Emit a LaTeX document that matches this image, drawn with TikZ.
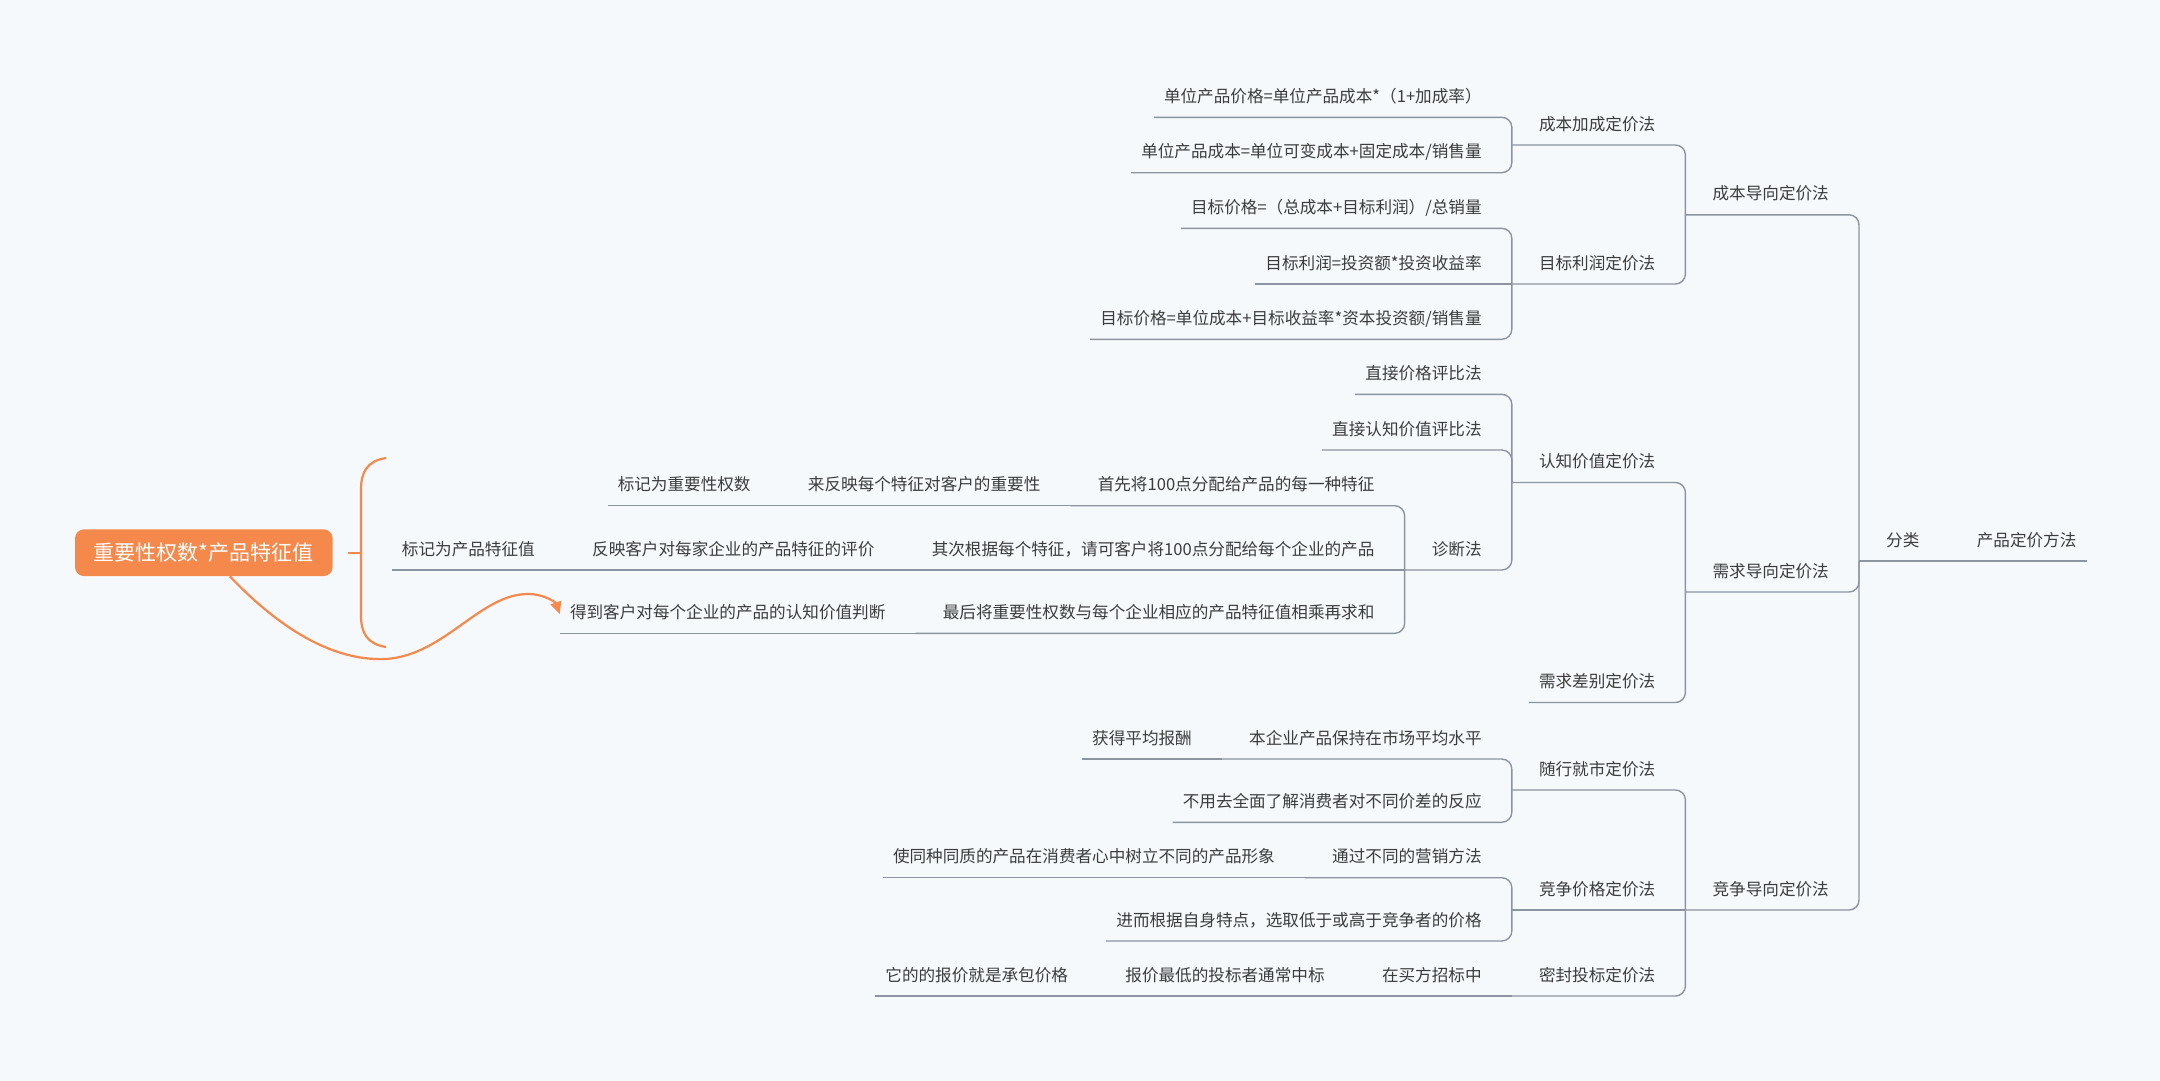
\documentclass[tikz,border=0pt]{standalone}
\usepackage{fontspec}
\setmainfont{Noto Sans CJK SC}
\usepackage{xcolor}
\usetikzlibrary{calc,positioning,arrows.meta}
\definecolor{bgcol}{RGB}{245,249,252}
\definecolor{linecol}{RGB}{140,148,160}
\definecolor{textcol}{RGB}{60,60,60}
\definecolor{orangecol}{RGB}{245,137,76}

\begin{document}
\begin{tikzpicture}[x=1pt,y=-1pt]
    \tikzset{
        topic/.style={text=textcol, font=\fontsize{16.6pt}{20pt}\selectfont, inner ysep=10.7pt, text height=13pt, text depth=4pt, anchor=south east},
        leaf/.style={topic, inner xsep=10pt, xshift=-20pt},
        hub/.style={topic, inner xsep=27pt, xshift=-3pt},
        titlebox/.style={rectangle, rounded corners=9pt, fill=orangecol, text=white, font=\fontsize{21pt}{25pt}\selectfont, minimum width=257.6pt, minimum height=46.7pt, inner sep=0pt},
        myline/.style={draw=linecol, line width=1.4pt, rounded corners=10pt},
        myarrow/.style={draw=orangecol, line width=2.2pt, -{Triangle[length=12pt,width=11pt]}},
        mybrace/.style={draw=orangecol, line width=2.2pt},
    }
    \fill[bgcol] (0,0) rectangle (2160,1081);
    \useasboundingbox (0,0) rectangle (2160,1081);

    \node[hub] (item0) at (2106.6,561) {产品定价方法};
    \node[hub] (item1) at (item0.south west |- 0,561) {分类};
      \node[hub] (item2) at (item1.south west |- 0,214.8) {成本导向定价法};
      \node[hub] (item3) at (item1.south west |- 0,592) {需求导向定价法};
      \node[hub] (item4) at (item1.south west |- 0,910) {竞争导向定价法};

        \node[hub] (item5) at (item2.south west |- 0,145) {成本加成定价法};
          \node[leaf] (item6) at (item5.south west |- 0,117.3) {单位产品价格=单位产品成本*（1+加成率）};
          \node[leaf] (item7) at (item5.south west |- 0,172.7) {单位产品成本=单位可变成本+固定成本/销售量};
        \node[hub] (item8) at (item2.south west |- 0,284) {目标利润定价法};
          \node[leaf] (item9) at (item8.south west |- 0,228.3) {目标价格=（总成本+目标利润）/总销量};
          \node[leaf] (item10) at (item8.south west |- 0,284) {目标利润=投资额*投资收益率};
          \node[leaf] (item11) at (item8.south west |- 0,339.3) {目标价格=单位成本+目标收益率*资本投资额/销售量};

        \node[hub] (item12) at (item3.south west |- 0,482.5) {认知价值定价法};
          \node[leaf] (item13) at (item12.south west |- 0,394.3) {直接价格评比法};
          \node[leaf] (item14) at (item12.south west |- 0,450) {直接认知价值评比法};
          \node[hub] (item15) at (item12.south west |- 0,570) {诊断法};
            \node[hub] (item16) at (item15.south west |- 0,505.7) {首先将100点分配给产品的每一种特征};
              \node[hub] (item17) at (item16.south west |- 0,505.7) {来反映每个特征对客户的重要性};
                \node[leaf] (item18) at (item17.south west |- 0,505.7) {标记为重要性权数};
            \node[hub] (item19) at (item15.south west |- 0,570) {其次根据每个特征，请可客户将100点分配给每个企业的产品};
              \node[hub] (item20) at (item19.south west |- 0,570) {反映客户对每家企业的产品特征的评价};
                \node[leaf] (item21) at (item20.south west |- 0,570) {标记为产品特征值};
            \node[hub] (item22) at (item15.south west |- 0,633.3) {最后将重要性权数与每个企业相应的产品特征值相乘再求和};
              \node[leaf] (item23) at (item22.south west |- 0,633.3) {得到客户对每个企业的产品的认知价值判断};
        \node[leaf] (item24) at (item3.south west |- 0,702.5) {需求差别定价法};

        \node[hub] (item25) at (item4.south west |- 0,790) {随行就市定价法};
          \node[hub] (item26) at (item25.south west |- 0,759) {本企业产品保持在市场平均水平};
            \node[leaf] (item27) at (item26.south west |- 0,759) {获得平均报酬};
          \node[leaf] (item28) at (item25.south west |- 0,822.3) {不用去全面了解消费者对不同价差的反应};
        \node[hub] (item29) at (item4.south west |- 0,910) {竞争价格定价法};
          \node[hub] (item30) at (item29.south west |- 0,877.7) {通过不同的营销方法};
            \node[leaf] (item31) at (item30.south west |- 0,877.7) {使同种同质的产品在消费者心中树立不同的产品形象};
          \node[leaf] (item32) at (item29.south west |- 0,941) {进而根据自身特点，选取低于或高于竞争者的价格};
        \node[hub] (item33) at (item4.south west |- 0,996) {密封投标定价法};
          \node[hub] (item34) at (item33.south west |- 0,996) {在买方招标中};
            \node[hub] (item35) at (item34.south west |- 0,996) {报价最低的投标者通常中标};
              \node[leaf] (item36) at (item35.south west |- 0,996) {它的的报价就是承包价格};

    \node[titlebox] (item37) at (203.8,552.7) {重要性权数*产品特征值};
    \coordinate (AuxNode01) at (361,552.7);

    \path[myline] (item0.south west) -- ([xshift=-17pt]item0.south east);
    \path[myline] (item0.south west) -- (item1.south west);
      \path[myline] (item1.south west) |- (item2.south west);
      \path[myline] (item1.south west) |- (item3.south west);
      \path[myline] (item1.south west) |- (item4.south west);
        \path[myline] (item2.south west) |- (item5.south west);
          \path[myline] (item5.south west) |- (item6.south west);
          \path[myline] (item5.south west) |- (item7.south west);
        \path[myline] (item2.south west) |- (item8.south west);
          \path[myline] (item8.south west) |- (item9.south west);
          \path[myline] (item8.south west) -- (item10.south west);
          \path[myline] (item8.south west) |- (item11.south west);
        \path[myline] (item3.south west) |- (item12.south west);
          \path[myline] (item12.south west) |- (item13.south west);
          \path[myline] (item12.south west) |- (item14.south west);
          \path[myline] (item12.south west) |- (item15.south west);
            \path[myline] (item15.south west) |- (item16.south west);
              \path[myline] (item16.south west) -- (item17.south west);
              \path[myline] (item17.south west) -- (item18.south west);
            \path[myline] (item15.south west) -- (item19.south west);
              \path[myline] (item19.south west) -- (item20.south west);
              \path[myline] (item20.south west) -- (item21.south west);
            \path[myline] (item15.south west) |- (item22.south west);
              \path[myline] (item22.south west) -- (item23.south west);
        \path[myline] (item3.south west) |- (item24.south west);
        \path[myline] (item4.south west) |- (item25.south west);
          \path[myline] (item25.south west) |- (item26.south west);
            \path[myline] (item26.south west) -- (item27.south west);
          \path[myline] (item25.south west) |- (item28.south west);
        \path[myline] (item4.south west) -- (item29.south west);
          \path[myline] (item29.south west) |- (item30.south west);
            \path[myline] (item30.south west) -- (item31.south west);
          \path[myline] (item29.south west) |- (item32.south west);
        \path[myline] (item4.south west) |- (item33.south west);
          \path[myline] (item33.south west) -- (item34.south west);
            \path[myline] (item34.south west) -- (item35.south west);
            \path[myline] (item35.south west) -- (item36.south west);

    \path[mybrace] ([xshift=15pt]item37.east) -- (AuxNode01);
    \path[mybrace] (386,458) .. controls (367,461) and (361,472) .. (361,490) -- (361,615) .. controls (361,633) and (367,644) .. (386,647);
    \path[myarrow] ([xshift=26pt]item37.south) .. controls (262,610) and (320,662) .. (386,659) .. controls (445,655) and (480,594) .. (528,594) .. controls (545,594) and (556,603) .. (item23.west);
\end{tikzpicture}
\end{document}
